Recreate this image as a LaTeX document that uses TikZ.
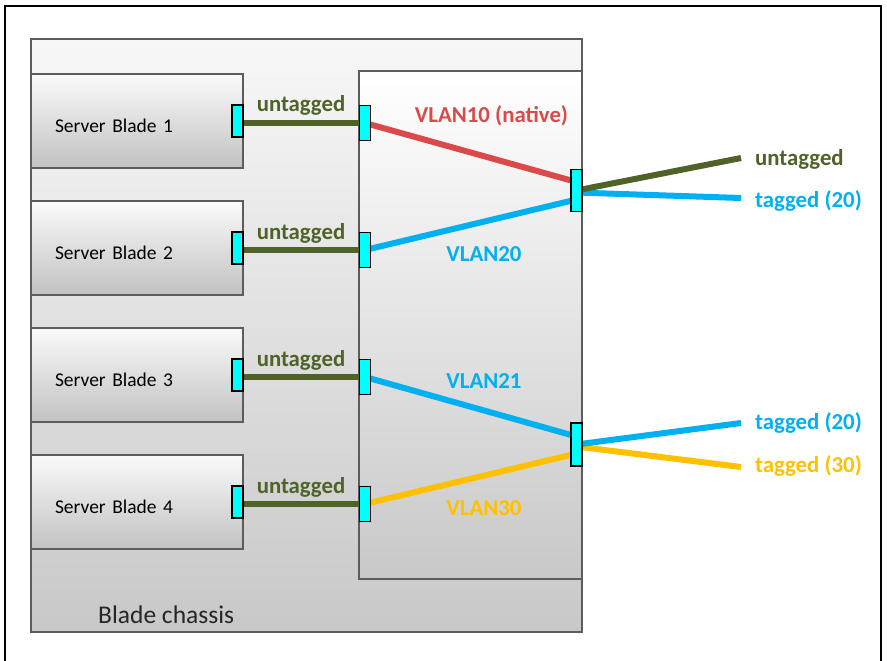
\documentclass[tikz,border=0pt]{standalone}
\usepackage{fontspec}
\setmainfont{Carlito}
\usetikzlibrary{positioning}

\definecolor{untagcol}{HTML}{4F6228}
\definecolor{vlanred}{HTML}{DA4A4A}
\definecolor{vlanblue}{HTML}{00B0F0}
\definecolor{vlanyellow}{HTML}{FFC000}
\definecolor{portcyan}{HTML}{00FFFF}
\definecolor{boxedge}{HTML}{5C5C5C}
\definecolor{chassisgray}{HTML}{C8C8C8}

\pgfdeclarelayer{ports}
\pgfsetlayers{main,ports}

\tikzset{
  blade/.style = {draw=boxedge, line width=1.2, top color=white!98!black,
    bottom color=black!24, minimum width=212, minimum height=94,
    text width=164, inner xsep=24, align=left,
    text height=24, text depth=2,
    font=\fontsize{19.5}{22}\selectfont},
  port/.style = {draw=black, line width=1.3, fill=portcyan,
    minimum width=11, minimum height=32, inner sep=0},
  link/.style = {line width=6},
  lbl/.style = {font=\fontsize{22.8}{26}\selectfont\bfseries, inner sep=0, anchor=base}
}

\begin{document}
\begin{tikzpicture}[x=1pt, y=-1pt]
  \useasboundingbox (0,0) rectangle (887,661);
  % frame, open at the bottom
  \draw[line width=2.5] (5,664) -- (5,6) -- (881,6) -- (881,664);

  % chassis and switch module
  \draw[draw=boxedge, line width=1.2, top color=white!97!black,
    bottom color=chassisgray] (31,39) rectangle (582,632);
  \draw[draw=boxedge, line width=1.2, top color=white,
    bottom color=chassisgray] (359,71) rectangle (582,579);
  \node[anchor=base west, inner sep=0, font=\fontsize{25.5}{30}\selectfont,
    text=black!85] (chassis) at (98,623) {Blade chassis};

  % blades
  \foreach \i in {1,...,4} {
    \node[blade] (blade\i) at (137, {121+127*(\i-1)}) {Server Blade \i};
  }

  % ports
  \begin{pgfonlayer}{ports}
  \foreach \i in {1,...,4} {
    \node[port] (bport\i) at (237.5, {121+127*(\i-1)}) {};
    \node[port, minimum height=35] (sport\i) at (365, {123+127*(\i-1)}) {};
  }
  \node[port, minimum height=42] (up) at (576.5,190.5) {};
  \node[port, minimum height=43] (dn) at (576.5,444.5) {};
  \end{pgfonlayer}

  % blade to switch
  \foreach \i in {1,...,4} {
    \draw[link, untagcol] (bport\i.center |- sport\i) -- (sport\i.center);
    \node[lbl, text=untagcol] (utag\i) at (301, {112+127*(\i-1)}) {untagged};
  }

  % inside the switch
  \draw[link, vlanred] (sport1.center) -- ([yshift=8.5pt]up.center);
  \draw[link, vlanblue] (sport2.center) -- ([yshift=-9pt]up.center);
  \draw[link, vlanblue] (sport3.center) -- ([yshift=8pt]dn.center);
  \draw[link, vlanyellow] (sport4.center) -- ([yshift=-9pt]dn.center);

  \node[lbl, text=vlanred] (v10) at (491.5,123) {VLAN10 (native)};
  \node[lbl, text=vlanblue] (v20) at (484,261) {VLAN20};
  \node[lbl, text=vlanblue] (v21) at (484,388) {VLAN21};
  \node[lbl, text=vlanyellow] (v30) at (484,515) {VLAN30};

  % uplinks
  \coordinate (upU) at (741,158);
  \coordinate (upT) at (741,198);
  \coordinate (dnT) at (741,423);
  \coordinate (dnY) at (741,467);
  \draw[link, vlanblue] ([yshift=-2pt]up.center) -- (upT);
  \draw[link, untagcol] (up.center) -- (upU);
  \draw[link, vlanyellow] ([yshift=-2pt]dn.center) -- (dnY);
  \draw[link, vlanblue] (dn.center) -- (dnT);

  \node[lbl, anchor=base west, text=untagcol] (upUl) at (755,165) {untagged};
  \node[lbl, anchor=base west, text=vlanblue] (upTl) at (755,207) {tagged (20)};
  \node[lbl, anchor=base west, text=vlanblue] (dnTl) at (755,429) {tagged (20)};
  \node[lbl, anchor=base west, text=vlanyellow] (dnYl) at (755,472) {tagged (30)};
\end{tikzpicture}
\end{document}
